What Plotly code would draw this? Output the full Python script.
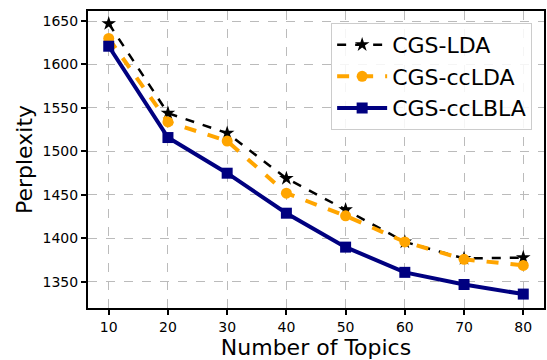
import plotly.graph_objects as go

topics = [10, 20, 30, 40, 50, 60, 70, 80]
cgs_lda = [1647, 1544, 1521, 1469, 1433, 1396, 1377, 1378]
cgs_cclda = [1630, 1534, 1512, 1452, 1426, 1396, 1376, 1369]
cgs_cclbla = [1621, 1516, 1475, 1429, 1390, 1361, 1347, 1336]
x_ticks = [10, 20, 30, 40, 50, 60, 70, 80]
y_ticks = [1350, 1400, 1450, 1500, 1550, 1600, 1650]

fig = go.Figure()
fig.add_trace(go.Scatter(x=topics, y=cgs_lda, name="CGS-LDA", mode="lines+markers",
                         line=dict(color="black", width=2.5, dash="dash"),
                         marker=dict(symbol="star", size=11, color="black")))
fig.add_trace(go.Scatter(x=topics, y=cgs_cclda, name="CGS-ccLDA", mode="lines+markers",
                         line=dict(color="orange", width=4, dash="dash"),
                         marker=dict(symbol="circle", size=11, color="orange")))
fig.add_trace(go.Scatter(x=topics, y=cgs_cclbla, name="CGS-ccLBLA", mode="lines+markers",
                         line=dict(color="navy", width=4),
                         marker=dict(symbol="square", size=11, color="navy")))

axis_common = dict(showline=True, linecolor="black", linewidth=2, mirror=True,
                   ticks="outside", ticklen=5, tickwidth=1.5, tickcolor="black",
                   showgrid=True, gridcolor="#bbbbbb", griddash="dash", gridwidth=1,
                   zeroline=False, tickfont=dict(size=14, color="black"))

fig.update_xaxes(range=[6.5, 83.5], tickvals=x_ticks,
                 title=dict(text="Number of Topics", font=dict(size=22, color="black"), standoff=0),
                 **axis_common)
fig.update_yaxes(range=[1320, 1661.5], tickvals=y_ticks,
                 title=dict(text="Perplexity", font=dict(size=22, color="black"), standoff=4),
                 **axis_common)

fig.update_layout(
    width=547, height=360,
    margin=dict(l=88, r=1, t=11, b=52),
    plot_bgcolor="white", paper_bgcolor="white",
    font=dict(family="DejaVu Sans", color="black"),
    legend=dict(x=0.974, y=0.96, xanchor="right", yanchor="top",
                bgcolor="rgba(255,255,255,0.85)", bordercolor="#cccccc", borderwidth=1,
                font=dict(size=22), itemwidth=50, tracegroupgap=0),
    showlegend=True,
)

fig.write_html("out.html")
